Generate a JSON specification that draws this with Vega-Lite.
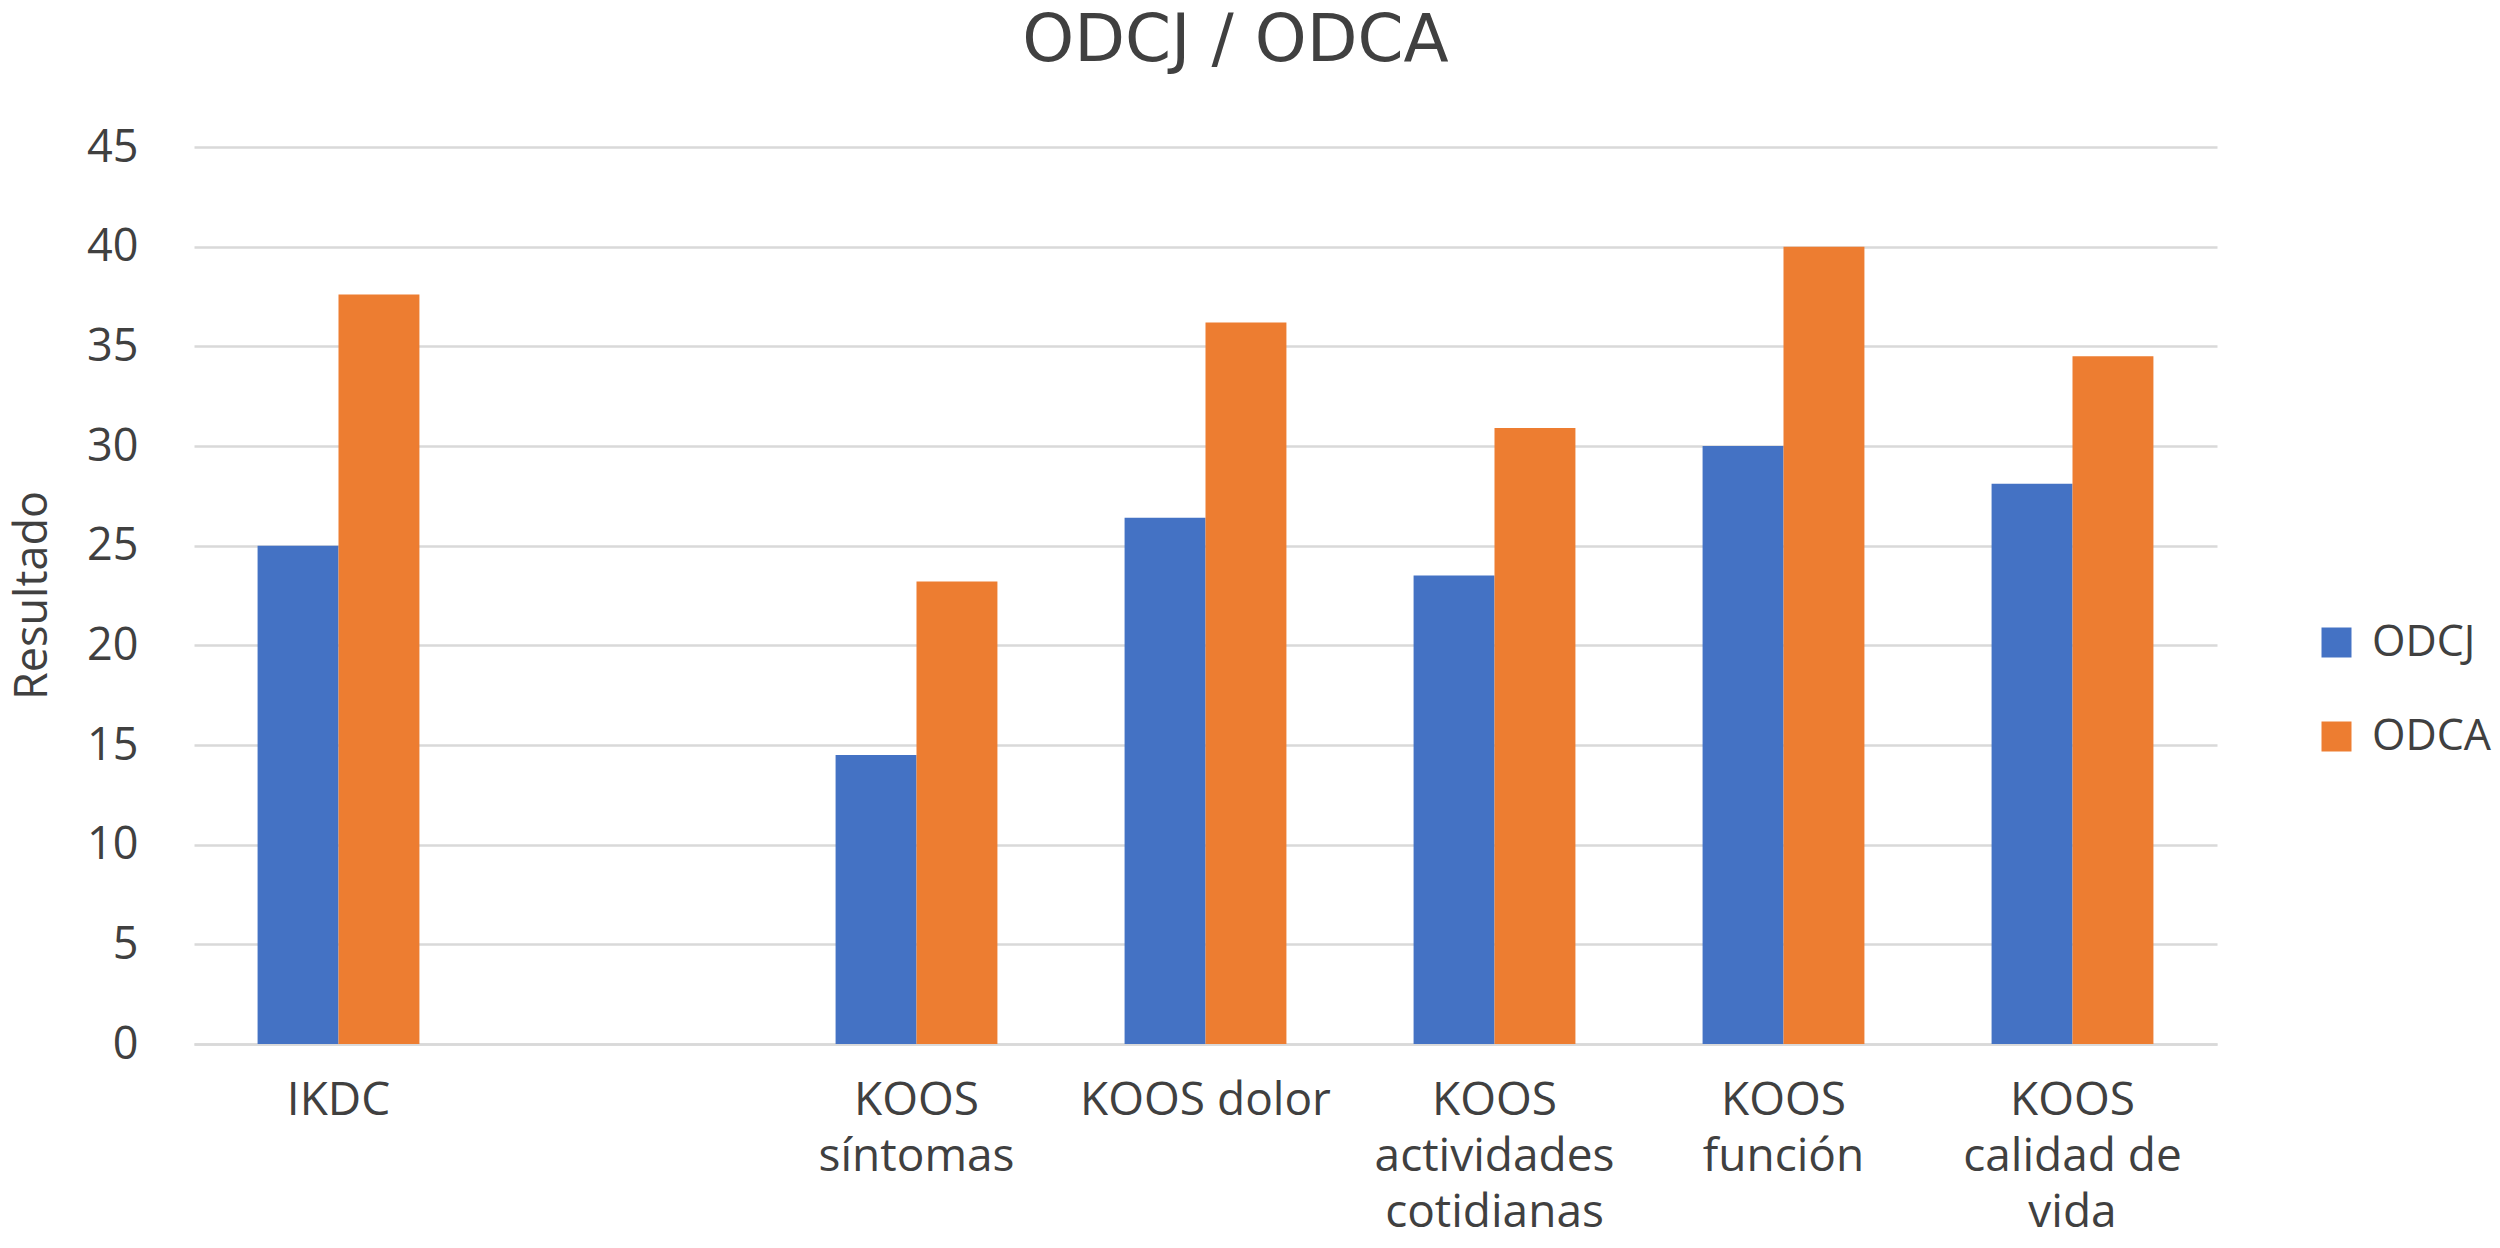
{
  "$schema": "https://vega.github.io/schema/vega-lite/v6.json",
  "width": 2023,
  "height": 897,
  "autosize": {"type": "none"},
  "padding": {"left": 194, "top": 147, "right": 283, "bottom": 204},
  "background": "white",
  "title": {
    "text": "ODCJ / ODCA",
    "anchor": "middle",
    "dx": 30,
    "fontSize": 66,
    "font": "DejaVu Sans",
    "fontWeight": "normal",
    "color": "#404040",
    "baseline": "alphabetic",
    "offset": -2
  },
  "data": {
    "values": [
      {"categoria": "IKDC", "serie": "ODCJ", "resultado": 25.0},
      {"categoria": "IKDC", "serie": "ODCA", "resultado": 37.6},
      {"categoria": "KOOS síntomas", "serie": "ODCJ", "resultado": 14.5},
      {"categoria": "KOOS síntomas", "serie": "ODCA", "resultado": 23.2},
      {"categoria": "KOOS dolor", "serie": "ODCJ", "resultado": 26.4},
      {"categoria": "KOOS dolor", "serie": "ODCA", "resultado": 36.2},
      {"categoria": "KOOS actividades cotidianas", "serie": "ODCJ", "resultado": 23.5},
      {"categoria": "KOOS actividades cotidianas", "serie": "ODCA", "resultado": 30.9},
      {"categoria": "KOOS función", "serie": "ODCJ", "resultado": 30.0},
      {"categoria": "KOOS función", "serie": "ODCA", "resultado": 40.0},
      {"categoria": "KOOS calidad de vida", "serie": "ODCJ", "resultado": 28.1},
      {"categoria": "KOOS calidad de vida", "serie": "ODCA", "resultado": 34.5}
    ]
  },
  "mark": {"type": "bar"},
  "encoding": {
    "x": {
      "field": "categoria",
      "type": "nominal",
      "scale": {
        "domain": ["IKDC", " ", "KOOS síntomas", "KOOS dolor", "KOOS actividades cotidianas", "KOOS función", "KOOS calidad de vida"],
        "paddingInner": 0.44,
        "paddingOuter": 0.22
      },
      "axis": {
        "title": null,
        "labelAngle": 0,
        "ticks": false,
        "domain": true,
        "domainColor": "#d9d9d9",
        "domainWidth": 2.5,
        "labelFont": "Open Sans",
        "labelFontSize": 46,
        "labelColor": "#404040",
        "labelPadding": 34,
        "labelLineHeight": 56,
        "labelBaseline": "top",
        "labelLimit": 0,
        "labelExpr": "datum.value == 'KOOS síntomas' ? ['KOOS','síntomas'] : datum.value == 'KOOS actividades cotidianas' ? ['KOOS','actividades','cotidianas'] : datum.value == 'KOOS función' ? ['KOOS','función'] : datum.value == 'KOOS calidad de vida' ? ['KOOS','calidad de','vida'] : datum.label"
      }
    },
    "xOffset": {
      "field": "serie",
      "type": "nominal",
      "scale": {"domain": ["ODCJ", "ODCA"]}
    },
    "y": {
      "field": "resultado",
      "type": "quantitative",
      "scale": {"domain": [0, 45], "nice": false},
      "axis": {
        "title": "Resultado",
        "values": [0, 5, 10, 15, 20, 25, 30, 35, 40, 45],
        "ticks": false,
        "domain": false,
        "grid": true,
        "gridColor": "#d9d9d9",
        "gridWidth": 2.5,
        "labelFont": "Open Sans",
        "labelFontSize": 45,
        "labelColor": "#404040",
        "labelPadding": 56,
        "titleFont": "Open Sans",
        "titleFontSize": 45,
        "titleFontWeight": "normal",
        "titleColor": "#404040",
        "titleAngle": 270,
        "titleX": -162,
        "titleY": 448,
        "titleAlign": "center",
        "titleBaseline": "middle"
      }
    },
    "color": {
      "field": "serie",
      "type": "nominal",
      "scale": {"domain": ["ODCJ", "ODCA"], "range": ["#4472c4", "#ed7d31"]},
      "legend": {
        "title": null,
        "orient": "none",
        "legendX": 2121,
        "legendY": 474,
        "padding": 0,
        "symbolType": "square",
        "symbolSize": 900,
        "symbolStrokeWidth": 0,
        "symbolOpacity": 1,
        "labelFont": "Open Sans",
        "labelFontSize": 43,
        "labelColor": "#404040",
        "labelOffset": 14,
        "rowPadding": 50
      }
    }
  },
  "config": {
    "view": {"stroke": null}
  }
}
